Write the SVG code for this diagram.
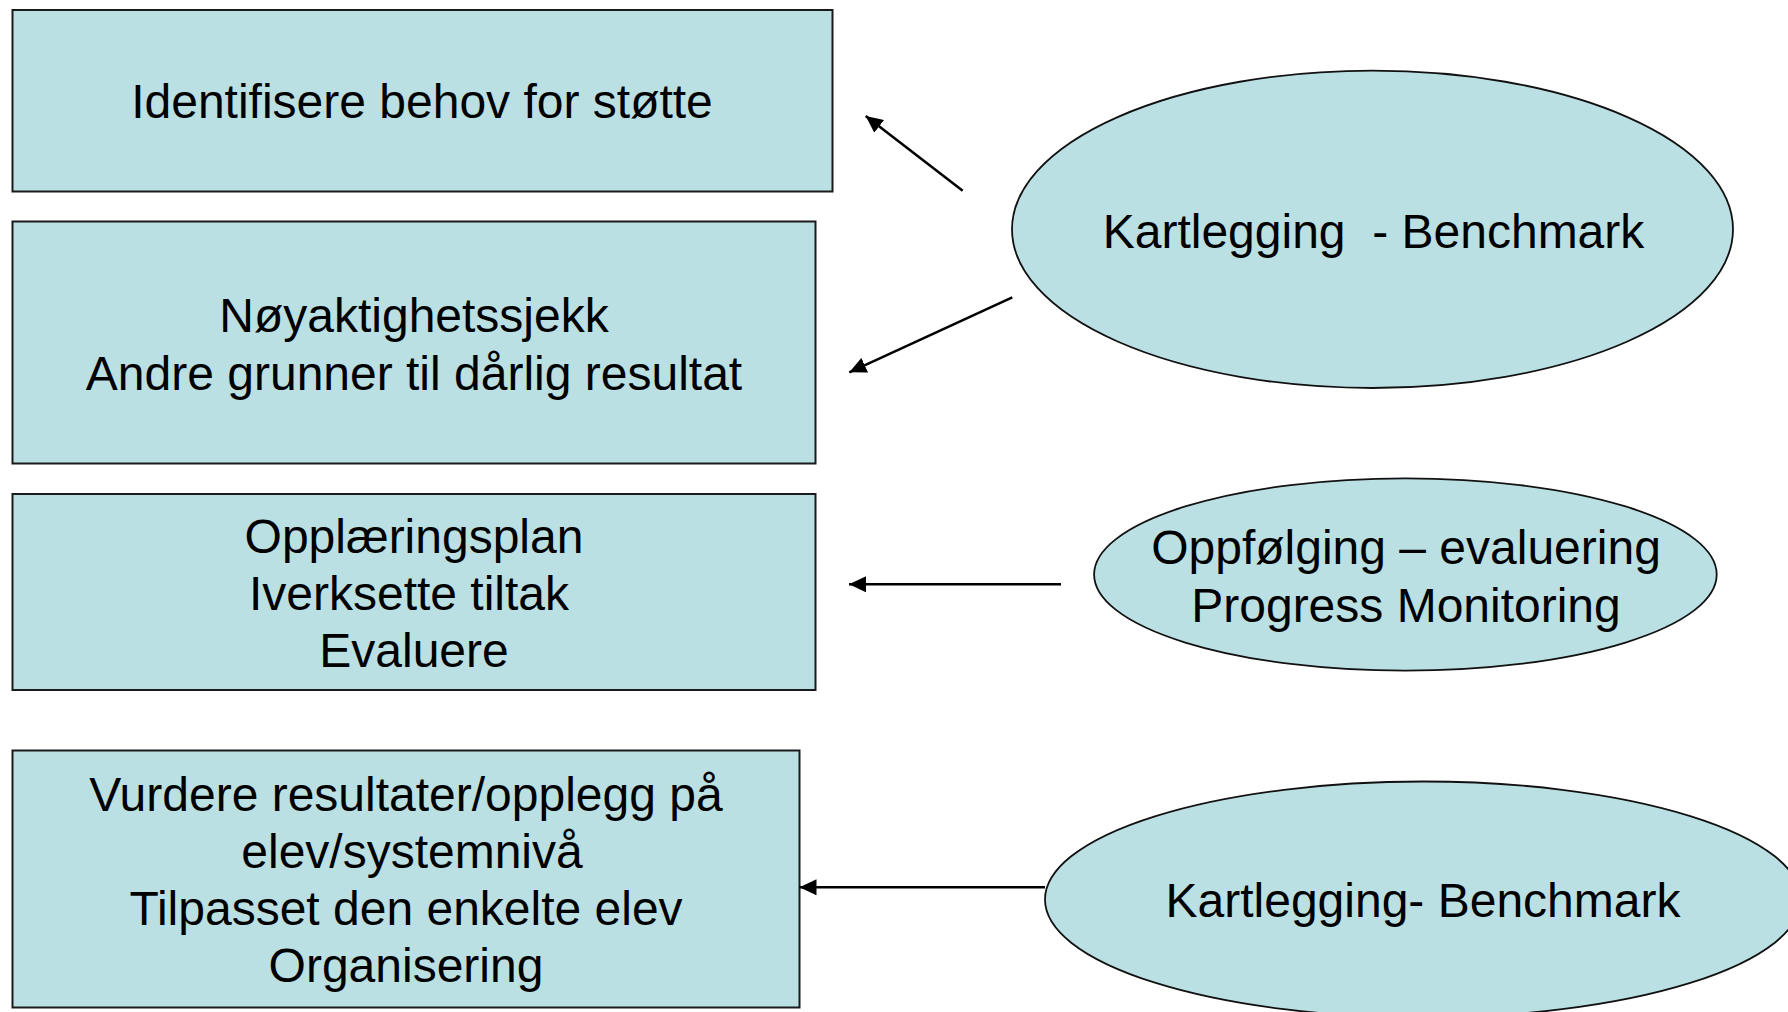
<svg xmlns="http://www.w3.org/2000/svg" width="1788" height="1012" viewBox="0 0 1788 1012">
<style>
.box{fill:#BBE0E3;stroke:#1a1a1a;stroke-width:2}
.ell{fill:#BBE0E3;stroke:#111;stroke-width:1.8}
.t{font-family:"Liberation Sans",Arial,sans-serif;font-size:48px;fill:#000;text-anchor:middle}
.c{stroke:#000;stroke-width:2.5;fill:none;marker-end:url(#ah)}
</style>
<defs>
<marker id="ah" markerUnits="userSpaceOnUse" markerWidth="18" markerHeight="16" refX="17" refY="8" orient="auto">
<path d="M0,0 L17,8 L0,16 z" fill="#000"/>
</marker>
</defs>
<rect width="1788" height="1012" fill="#fff"/>
<g id="box1">
<rect class="box" x="12.5" y="10" width="820" height="181.5"/>
<text class="t" x="422" y="118">Identifisere behov for støtte</text>
</g>
<g id="box2">
<rect class="box" x="12.5" y="221.5" width="803" height="242"/>
<text class="t" x="414" y="331.5">Nøyaktighetssjekk</text>
<text class="t" x="414" y="390">Andre grunner til dårlig resultat</text>
</g>
<g id="box3">
<rect class="box" x="12.5" y="494" width="803" height="196"/>
<text class="t" x="414" y="553">Opplæringsplan</text>
<text class="t" x="409" y="610">Iverksette tiltak</text>
<text class="t" x="414" y="667">Evaluere</text>
</g>
<g id="box4">
<rect class="box" x="12.5" y="750.5" width="787" height="257"/>
<text class="t" x="406" y="810.5">Vurdere resultater/opplegg på</text>
<text class="t" x="412" y="867.5">elev/systemnivå</text>
<text class="t" x="406" y="924.5">Tilpasset den enkelte elev</text>
<text class="t" x="406" y="981.5">Organisering</text>
</g>
<g id="ellipse1">
<ellipse class="ell" cx="1372.5" cy="229.3" rx="360.5" ry="158.7"/>
<text class="t" x="1373.5" y="248" xml:space="preserve">Kartlegging  - Benchmark</text>
</g>
<g id="ellipse2">
<ellipse class="ell" cx="1405.4" cy="574.5" rx="311.3" ry="96.2"/>
<text class="t" x="1406" y="564">Oppfølging – evaluering</text>
<text class="t" x="1406" y="622">Progress Monitoring</text>
</g>
<g id="ellipse3">
<ellipse class="ell" cx="1423" cy="899.5" rx="378" ry="118"/>
<text class="t" x="1423" y="917">Kartlegging- Benchmark</text>
</g>
<g id="connectors">
<line class="c" x1="962.7" y1="190.7" x2="865.7" y2="116"/>
<line class="c" x1="1012.3" y1="297.3" x2="849.3" y2="372.3"/>
<line class="c" x1="1061" y1="584.3" x2="849" y2="584.3"/>
<line class="c" x1="1045" y1="887.3" x2="799.5" y2="887.3"/>
</g>
</svg>
